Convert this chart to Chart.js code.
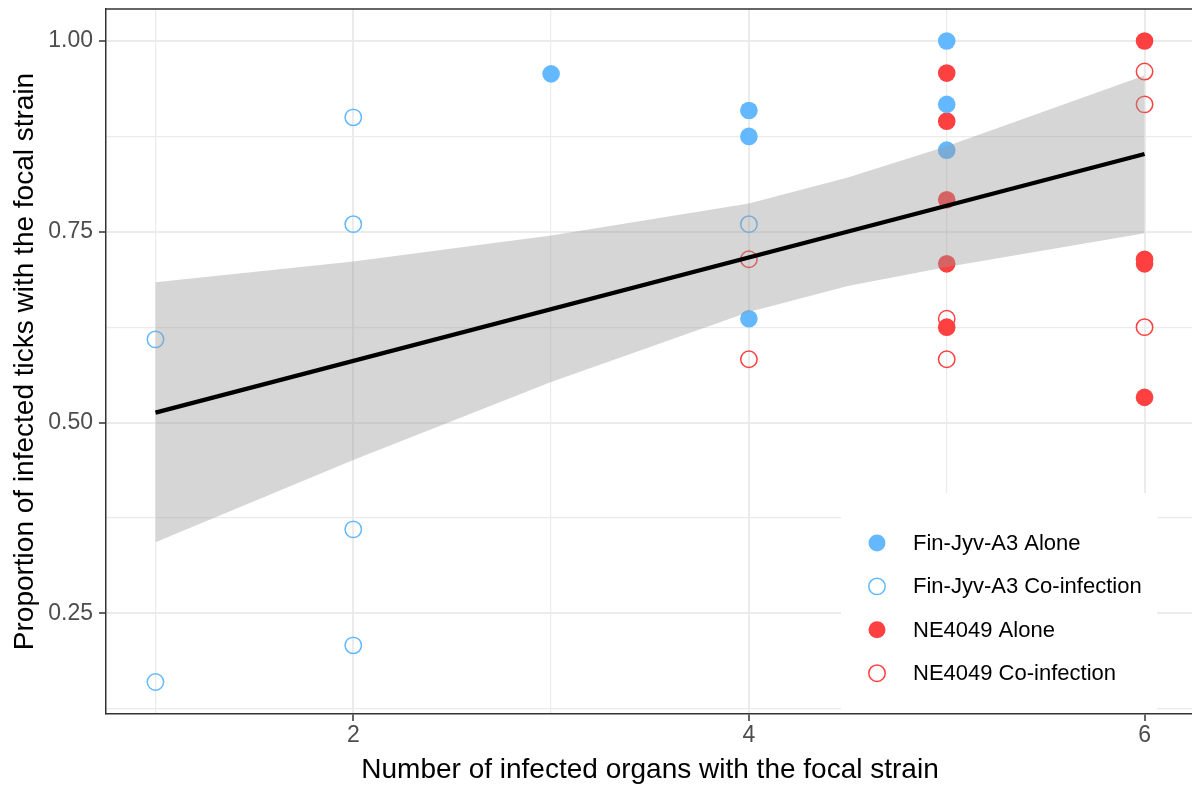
<!DOCTYPE html>
<html>
<head>
<meta charset="utf-8">
<script src="https://cdn.jsdelivr.net/npm/chart.js@4.4.1/dist/chart.umd.min.js"></script>
<style>
  html, body { margin: 0; padding: 0; background: #ffffff; overflow: hidden; }
  canvas { display: block; }
</style>
</head>
<body>
<canvas id="chart" width="1194" height="785"></canvas>
<script>
// Observed proportions per strain and infection status
const seriesNames = ['Fin-Jyv-A3 Alone', 'Fin-Jyv-A3 Co-infection', 'NE4049 Alone', 'NE4049 Co-infection'];

const finAloneX = [3, 4, 4, 4, 5, 5, 5];
const finAloneY = [0.957, 0.909, 0.875, 0.636, 1.0, 0.917, 0.857];

const finCoX = [1, 1, 2, 2, 2, 2, 4];
const finCoY = [0.609, 0.16, 0.9, 0.76, 0.36, 0.208, 0.76];

const neAloneX = [5, 5, 5, 5, 5, 6, 6, 6, 6];
const neAloneY = [0.958, 0.895, 0.792, 0.708, 0.625, 1.0, 0.714, 0.708, 0.533];

const neCoX = [4, 4, 5, 5, 6, 6, 6];
const neCoY = [0.714, 0.583, 0.636, 0.583, 0.96, 0.917, 0.625];

// Linear fit and its confidence band
const fitX = [1, 6];
const fitY = [0.513, 0.852];

const bandX = [1, 2, 3, 4, 4.5, 5, 6];
const bandUpper = [0.684, 0.711, 0.745, 0.787, 0.821, 0.862, 0.955];
const bandLower = [0.343, 0.451, 0.553, 0.645, 0.679, 0.704, 0.748];

// Axis ticks (grid at every tick, labels on the major ones)
const xTickValues = [1, 2, 3, 4, 5, 6];
const xMajorValues = [2, 4, 6];
const xTickLabels = ['2', '4', '6'];
const yTickValues = [0.125, 0.25, 0.375, 0.5, 0.625, 0.75, 0.875, 1.0];
const yMajorValues = [0.25, 0.5, 0.75, 1.0];
const yTickLabels = ['0.25', '0.50', '0.75', '1.00'];

const BLUE = '#63B8FF';
const RED = '#FF4040';

const pts = (xs, ys) => xs.map((x, i) => ({ x: x, y: ys[i] }));
const isMajor = (list, v) => list.some(m => Math.abs(m - v) < 1e-9);

function filledSeries(label, xs, ys, color) {
  return {
    type: 'scatter', label: label, data: pts(xs, ys), order: 2,
    backgroundColor: color, borderColor: color, borderWidth: 0,
    pointRadius: 8.8, pointHoverRadius: 8.8, pointStyle: 'circle'
  };
}
function openSeries(label, xs, ys, color) {
  return {
    type: 'scatter', label: label, data: pts(xs, ys), order: 2,
    backgroundColor: 'rgba(0,0,0,0)', borderColor: color, borderWidth: 1.5,
    pointRadius: 8.2, pointHoverRadius: 8.2, pointStyle: 'circle'
  };
}

const datasets = [
  filledSeries(seriesNames[0], finAloneX, finAloneY, BLUE),
  openSeries(seriesNames[1], finCoX, finCoY, BLUE),
  filledSeries(seriesNames[2], neAloneX, neAloneY, RED),
  openSeries(seriesNames[3], neCoX, neCoY, RED),
  {
    type: 'line', label: 'band-upper', data: pts(bandX, bandUpper), order: 1,
    borderColor: 'rgba(0,0,0,0)', borderWidth: 0, pointRadius: 0, tension: 0,
    fill: '+1', backgroundColor: 'rgba(153,153,153,0.4)'
  },
  {
    type: 'line', label: 'band-lower', data: pts(bandX, bandLower), order: 1,
    borderColor: 'rgba(0,0,0,0)', borderWidth: 0, pointRadius: 0, tension: 0,
    fill: false
  },
  {
    type: 'line', label: 'fit', data: pts(fitX, fitY), order: 0,
    borderColor: '#000000', borderWidth: 4.2, pointRadius: 0, tension: 0,
    fill: false, borderCapStyle: 'butt'
  }
];

// Panel outline on the top edge (left and bottom come from the axis borders)
const panelTop = {
  id: 'panelTop',
  afterDraw(chart) {
    const { ctx, chartArea: a } = chart;
    ctx.save();
    ctx.strokeStyle = '#333333';
    ctx.lineWidth = 1.5;
    ctx.beginPath();
    ctx.moveTo(a.left, a.top);
    ctx.lineTo(a.right, a.top);
    ctx.stroke();
    ctx.restore();
  }
};

// Legend drawn inside the panel, lower right
const insideLegend = {
  id: 'insideLegend',
  afterDatasetsDraw(chart) {
    const { ctx, chartArea: a } = chart;
    const boxRight = a.right - 37;
    const boxLeft = boxRight - 316;
    const boxTop = a.bottom - 221;
    ctx.save();
    ctx.fillStyle = '#ffffff';
    ctx.fillRect(boxLeft, boxTop, boxRight - boxLeft, a.bottom - boxTop - 1);
    ctx.font = '22px "Liberation Sans", Arial, sans-serif';
    ctx.textBaseline = 'middle';
    ctx.textAlign = 'left';
    seriesNames.forEach((name, i) => {
      const ds = chart.data.datasets[i];
      const cy = boxTop + 50 + i * 43.4;
      const cx = boxLeft + 36;
      ctx.beginPath();
      ctx.arc(cx, cy, ds.borderWidth > 0 ? 8.2 : 8.5, 0, Math.PI * 2);
      if (ds.borderWidth > 0) {
        ctx.lineWidth = ds.borderWidth;
        ctx.strokeStyle = ds.borderColor;
        ctx.stroke();
      } else {
        ctx.fillStyle = ds.backgroundColor;
        ctx.fill();
      }
      ctx.fillStyle = '#000000';
      ctx.fillText(name, boxLeft + 72, cy + 1);
    });
    ctx.restore();
  }
};

const tickFont = { family: '"Liberation Sans", Arial, sans-serif', size: 23 };
const titleFont = { family: '"Liberation Sans", Arial, sans-serif', size: 28, lineHeight: 1.1 };

// Fixed axis box sizes, no extra room reserved for overhanging tick labels
function fixBox(size, horizontal) {
  return s => {
    if (horizontal) { s.height = size; } else { s.width = size; }
    s.paddingTop = 0; s.paddingBottom = 0; s.paddingLeft = 0; s.paddingRight = 0;
  };
}

new Chart(document.getElementById('chart'), {
  type: 'scatter',
  data: { datasets: datasets },
  options: {
    responsive: false,
    animation: false,
    events: [],
    layout: { autoPadding: false, padding: { top: 9, left: 0, right: 0, bottom: 0 } },
    plugins: { legend: { display: false }, tooltip: { enabled: false }, title: { display: false } },
    scales: {
      x: {
        type: 'linear', min: 0.75, max: 6.25, bounds: 'data',
        afterBuildTicks: s => { s.ticks = xTickValues.map(v => ({ value: v })); },
        afterFit: fixBox(71, true),
        ticks: {
          autoSkip: false, maxRotation: 0, padding: 1,
          color: '#4D4D4D', font: tickFont,
          callback: v => { const k = xMajorValues.findIndex(m => Math.abs(m - v) < 1e-9); return k >= 0 ? xTickLabels[k] : ''; }
        },
        grid: {
          color: '#EBEBEB',
          lineWidth: c => (c.tick && isMajor(xMajorValues, c.tick.value)) ? 2 : 1.2,
          drawTicks: true, tickLength: 7, tickWidth: 1.5,
          tickColor: c => (c.tick && isMajor(xMajorValues, c.tick.value)) ? '#333333' : 'rgba(0,0,0,0)'
        },
        border: { display: true, color: '#333333', width: 1.5 },
        title: {
          display: true, text: 'Number of infected organs with the focal strain',
          color: '#000000', font: titleFont, padding: { top: 0, bottom: -1 }
        }
      },
      y: {
        type: 'linear', min: 0.118, max: 1.042, bounds: 'data',
        afterBuildTicks: s => { s.ticks = yTickValues.map(v => ({ value: v })); },
        afterFit: fixBox(106, false),
        ticks: {
          autoSkip: false, padding: 6,
          color: '#4D4D4D', font: tickFont,
          callback: v => { const k = yMajorValues.findIndex(m => Math.abs(m - v) < 1e-9); return k >= 0 ? yTickLabels[k] : ''; }
        },
        grid: {
          color: '#EBEBEB',
          lineWidth: c => (c.tick && isMajor(yMajorValues, c.tick.value)) ? 2 : 1.2,
          drawTicks: true, tickLength: 7, tickWidth: 1.5,
          tickColor: c => (c.tick && isMajor(yMajorValues, c.tick.value)) ? '#333333' : 'rgba(0,0,0,0)'
        },
        border: { display: true, color: '#333333', width: 1.5 },
        title: {
          display: true, text: 'Proportion of infected ticks with the focal strain',
          color: '#000000', font: titleFont, padding: { top: 10, bottom: 0 }
        }
      }
    }
  },
  plugins: [panelTop, insideLegend]
});
</script>
</body>
</html>
